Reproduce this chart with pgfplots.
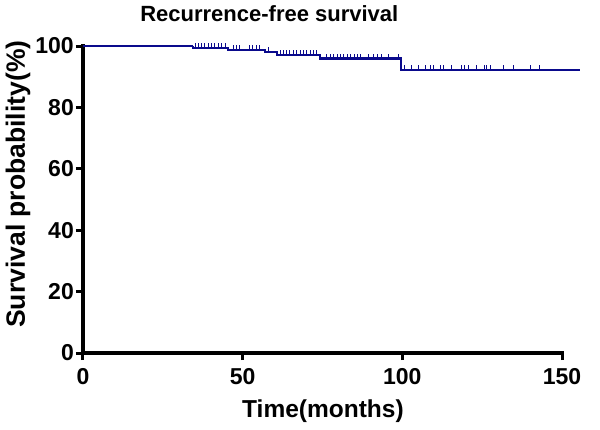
\documentclass[border=0pt]{standalone}
\usepackage{fontspec}
\setmainfont{Liberation Sans}
\usepackage{pgfplots}
\pgfplotsset{compat=1.18}
\definecolor{km}{RGB}{10,10,140}
\pgfdeclareplotmark{cens}{\pgfpathmoveto{\pgfpointorigin}\pgfpathlineto{\pgfpoint{0pt}{5pt}}\pgfusepathqstroke}
\begin{document}
\begin{tikzpicture}
\begin{axis}[
  scale only axis, width=479pt, height=307pt,
  xmin=0, xmax=150, ymin=0, ymax=100,
  axis x line=bottom, axis y line=left,
  axis line style={-, line width=3.5pt, black, line cap=rect},
  xtick={0,50,100,150}, ytick={0,20,40,60,80,100},
  tick align=outside, major tick length=7pt,
  tick style={black, line width=3pt},
  /pgf/number format/assume math mode=true,
  ticklabel style={font=\fontsize{23}{26}\selectfont\bfseries, inner sep=2pt},
  xticklabel style={yshift=-6pt},
  clip=false,
  title={Recurrence-free survival},
  title style={at={(axis description cs:0.389,1.086)}, anchor=center, font=\fontsize{22}{26}\selectfont\bfseries},
  xlabel={Time(months)},
  xlabel style={at={(axis description cs:0.501,-0.19)}, anchor=center, font=\fontsize{24.5}{28}\selectfont\bfseries},
  ylabel={Survival probability(\%)},
  ylabel style={at={(axis description cs:-0.1357,0.55)}, anchor=center, font=\fontsize{26.5}{30}\selectfont\bfseries},
]
\coordinate (O) at (rel axis cs:0,0);
\addplot[km, line width=1.1pt, const plot] coordinates {(0,100) (34.4,100)};
\addplot[km, line width=2.2pt, const plot] coordinates {
  (34.4,100) (34.4,99.4) (45.5,98.8) (57.0,98.1) (60.7,97.1) (74.2,95.9) (99.6,92.2) (155.5,92.2)};
\addplot[km, only marks, mark=cens, mark options={line width=1pt}] coordinates {
  (35.1,99.4) (36.1,99.4) (37.2,99.4) (38.2,99.4) (39.2,99.4) (40.3,99.4) (41.3,99.4) (42.4,99.4) (43.4,99.4) (44.5,99.4)
  (47.1,98.8) (48.1,98.8) (48.9,98.8) (52.1,98.8) (53.1,98.8) (54.2,98.8) (55.2,98.8)
  (58.2,98.1)
  (61.7,97.1) (62.7,97.1) (63.8,97.1) (64.8,97.1) (65.9,97.1) (66.9,97.1) (68.0,97.1) (69.0,97.1) (70.1,97.1) (71.1,97.1) (72.1,97.1) (73.2,97.1)
  (76.3,95.9) (77.4,95.9) (78.4,95.9) (79.6,95.9) (80.7,95.9) (81.7,95.9) (82.8,95.9) (83.8,95.9) (84.9,95.9) (85.9,95.9) (87.0,95.9) (89.4,95.9) (91.1,95.9) (92.2,95.9) (93.5,95.9) (95.6,95.9) (98.7,95.9)
  (100.8,92.2) (102.9,92.2) (105.0,92.2) (107.1,92.2) (108.7,92.2) (109.7,92.2) (111.8,92.2) (112.8,92.2) (115.5,92.2) (118.6,92.2) (119.6,92.2) (120.7,92.2) (123.3,92.2) (125.6,92.2) (126.5,92.2) (127.5,92.2) (131.6,92.2) (134.7,92.2) (140.0,92.2) (143.1,92.2)
};
\end{axis}
\pgfresetboundingbox
\path (O) ++(-83pt,-76pt) rectangle ++(600pt,429pt);
\end{tikzpicture}
\end{document}
